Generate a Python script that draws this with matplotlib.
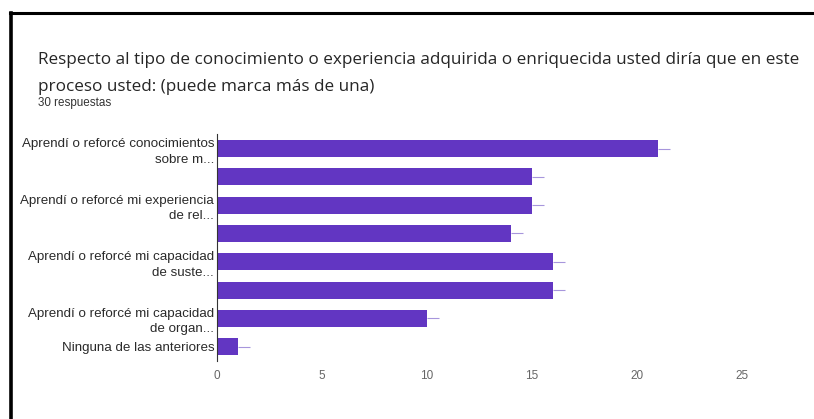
import matplotlib.pyplot as plt
from matplotlib.lines import Line2D

# respuestas por opción (de arriba hacia abajo)
etiquetas = [
    "Aprendí o reforcé conocimientos\nsobre m...",
    "",
    "Aprendí o reforcé mi experiencia\nde rel...",
    "",
    "Aprendí o reforcé mi capacidad\nde suste...",
    "",
    "Aprendí o reforcé mi capacidad\nde organ...",
    "Ninguna de las anteriores",
]
respuestas = [21, 15, 15, 14, 16, 16, 10, 1]
ticks_x = [0, 5, 10, 15, 20, 25]

titulo = ("Respecto al tipo de conocimiento o experiencia adquirida o "
          "enriquecida usted diría que en este\nproceso usted: (puede marca más de una)")
subtitulo = "30 respuestas"

morado = "#6236c2"

fig = plt.figure(figsize=(8.14, 4.19), dpi=100)
fig.patch.set_facecolor("white")

ax = fig.add_axes([0.2666, 0.139, 0.7095, 0.54])
pos = list(range(len(respuestas)))
ax.barh(pos, respuestas, height=0.6, color=morado, zorder=2)
# pequeña marca al final de cada barra
for p, v in zip(pos, respuestas):
    ax.hlines(p, v, v + 0.55, color="#a796dc", lw=0.8, zorder=1)

ax.set_ylim(len(respuestas) - 0.5, -0.5)
ax.set_xlim(0, 27.5)
ax.set_yticks(pos)
ax.set_yticklabels(etiquetas, family="Liberation Sans", fontsize=9.6,
                   color="#2a2a2a", linespacing=1.4)
ax.set_xticks(ticks_x)
ax.set_xticklabels([str(t) for t in ticks_x], family="Liberation Sans",
                   fontsize=8.5, color="#666666")
ax.tick_params(axis="y", length=0, pad=2)
ax.tick_params(axis="x", length=0, pad=7)
for s in ["top", "right", "bottom"]:
    ax.spines[s].set_visible(False)
ax.spines["left"].set_color("#333333")
ax.spines["left"].set_linewidth(0.8)

fig.text(38 / 814, 1 - 52 / 419, titulo, family="Open Sans", fontsize=12.3,
         color="#262626", va="top", ha="left", linespacing=1.95)
fig.text(38 / 814, 1 - 103 / 419, subtitulo, family="Liberation Sans",
         fontsize=8.4, color="#333333", va="center", ha="left")

# marco negro del recorte
fig.add_artist(Line2D([10 / 814, 1], [1 - 13 / 419, 1 - 13 / 419],
                      color="black", lw=2.2, transform=fig.transFigure))
fig.add_artist(Line2D([10.5 / 814, 10.5 / 814], [0, 1 - 13 / 419],
                      color="black", lw=2.6, transform=fig.transFigure))

fig.savefig("out.png", dpi=100)
